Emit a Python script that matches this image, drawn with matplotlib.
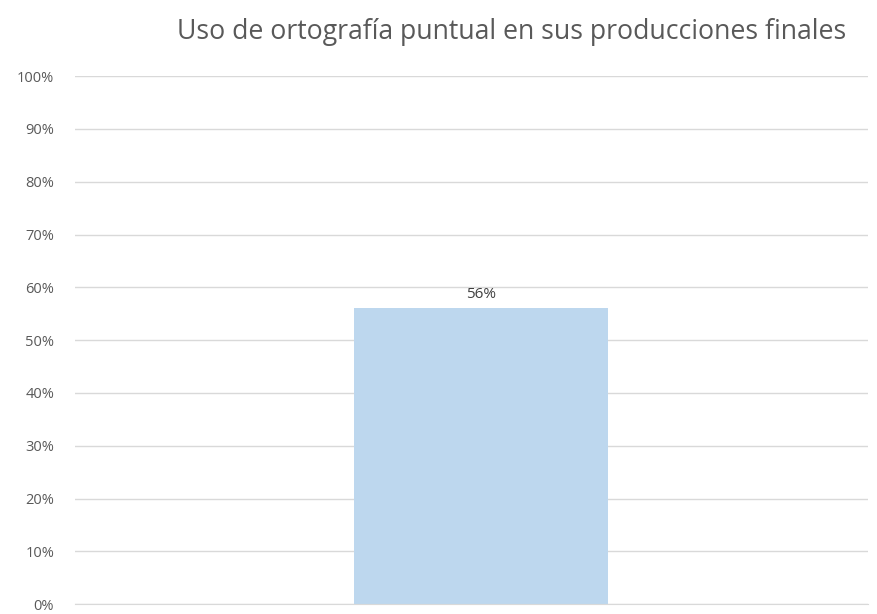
import matplotlib
matplotlib.use("Agg")
import matplotlib.pyplot as plt
from matplotlib.ticker import PercentFormatter

# data
categories = [""]
values = [0.56]
title = "Uso de ortografía puntual en sus producciones finales"

plt.rcParams['font.family'] = ['Open Sans', 'DejaVu Sans']

fig = plt.figure(figsize=(8.77, 6.14), dpi=100)
ax = fig.add_axes([0.0855, 0.016, 0.904, 0.860])

bars = ax.bar(categories, values, width=0.32, color="#BDD7EE", zorder=2)
ax.set_xlim(-0.512, 0.488)
ax.set_ylim(0, 1.0)
ax.set_yticks([i / 10 for i in range(11)])
ax.yaxis.set_major_formatter(PercentFormatter(1.0, decimals=0))
ax.grid(axis="y", color="#D9D9D9", linewidth=1, zorder=0)
for s in ["top", "right", "left"]:
    ax.spines[s].set_visible(False)
ax.spines["bottom"].set_color("#D9D9D9")
ax.tick_params(axis="y", length=0, labelsize=10.5, labelcolor="#595959", pad=15)
ax.tick_params(axis="x", length=0, labelbottom=False)

for b, v in zip(bars, values):
    ax.text(b.get_x() + b.get_width() / 2, v + 0.012, f"{v:.0%}",
            ha="center", va="bottom", fontsize=11, color="#404040")

fig.text(0.583, 0.948, title, ha="center", va="center", fontsize=19.2, color="#595959")

fig.savefig("out.png", dpi=100)
